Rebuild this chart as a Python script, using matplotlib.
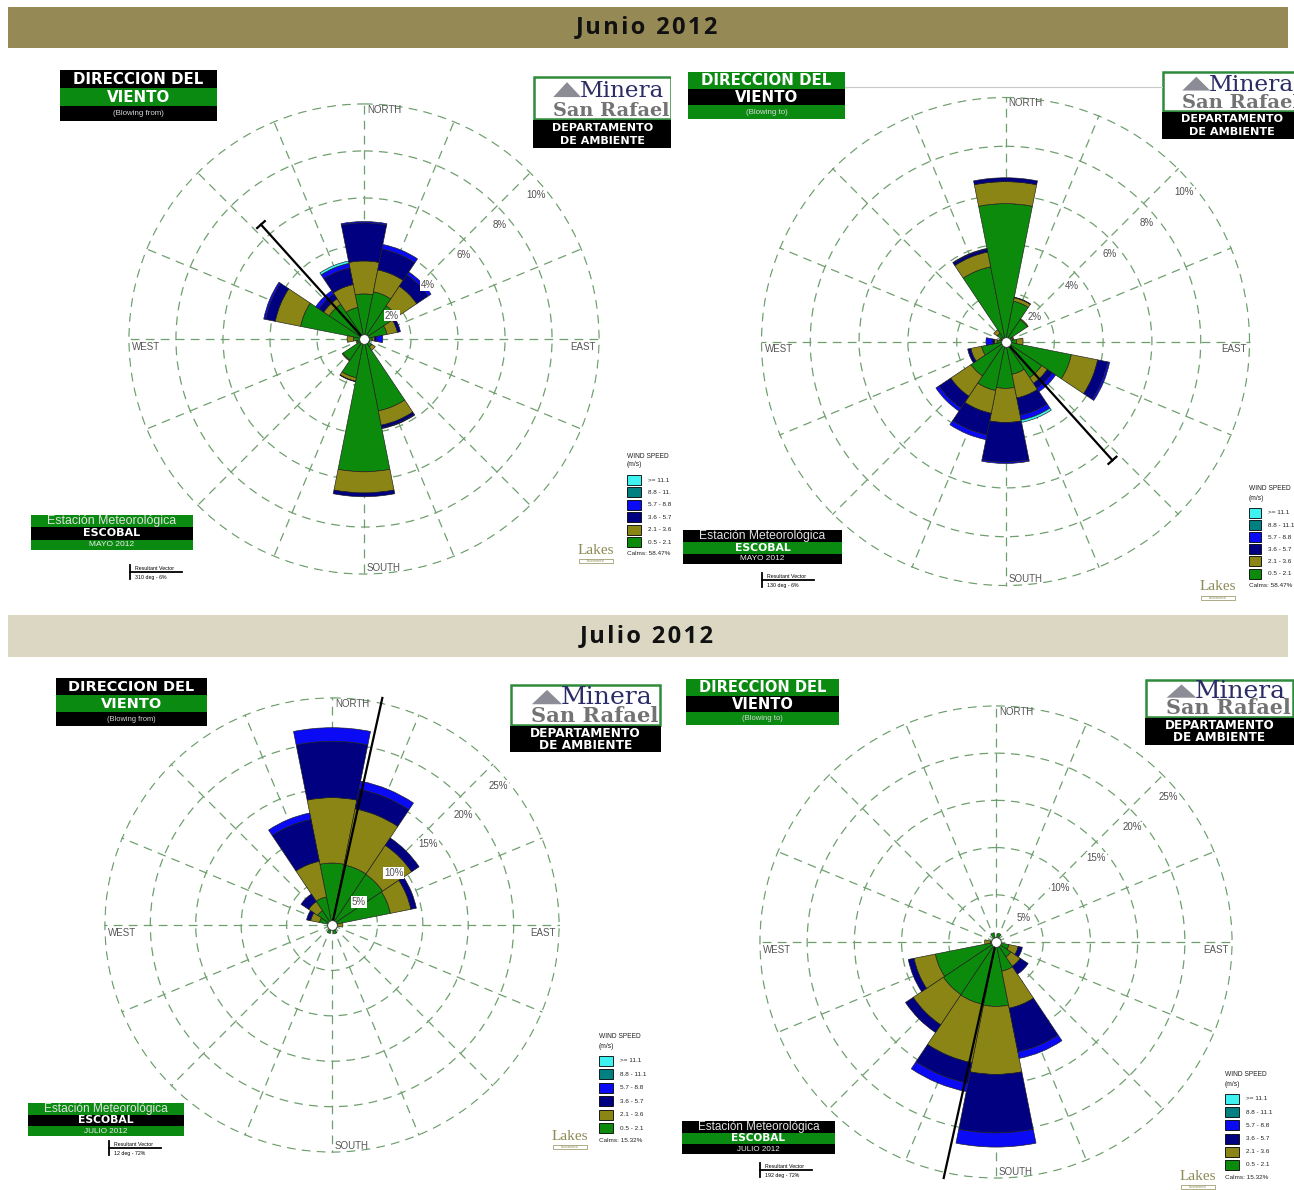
import numpy as np
import matplotlib
matplotlib.use('Agg')
import matplotlib.pyplot as plt
from matplotlib.patches import Rectangle, Polygon

plt.rcParams['font.family'] = 'Liberation Sans'

W, H = 1294, 1190

# ---- data -------------------------------------------------------------
directions = ['N', 'NNE', 'NE', 'ENE', 'E', 'ESE', 'SE', 'SSE',
              'S', 'SSW', 'SW', 'WSW', 'W', 'WNW', 'NW', 'NNW']
dir_deg = np.arange(16) * 22.5

speed_labels = ['0.5 - 2.1', '2.1 - 3.6', '3.6 - 5.7', '5.7 - 8.8', '8.8 - 11.1', '>= 11.1']
speed_colors = ['#0c8a0c', '#8a8514', '#000080', '#0a0af5', '#008080', '#3ff2f2']

# Junio 2012 - frequency (%) of wind blowing FROM each direction, per speed class
jun_05_21 = [1.92, 2.05, 1.70, 1.00, 0.35, 0.20, 0.40, 3.12, 5.65, 1.68, 1.08, 0.30, 0.45, 2.75, 1.78, 1.37]
jun_21_36 = [1.40, 0.95, 1.00, 0.45, 0.10, 0.05, 0.18, 0.62, 0.90, 0.15, 0.04, 0.05, 0.27, 1.10, 0.28, 0.99]
jun_36_57 = [1.62, 0.90, 0.58, 0.13, 0.10, 0.00, 0.00, 0.12, 0.16, 0.02, 0.00, 0.00, 0.00, 0.42, 0.25, 0.72]
jun_57_88 = [0.06, 0.20, 0.15, 0.00, 0.25, 0.00, 0.00, 0.03, 0.00, 0.00, 0.00, 0.00, 0.00, 0.08, 0.16, 0.20]
jun_88_111 = [0.0] * 16
jun_111 = [0.00, 0.00, 0.00, 0.00, 0.00, 0.00, 0.00, 0.00, 0.00, 0.00, 0.00, 0.00, 0.00, 0.00, 0.00, 0.10]
jun_calms = 58.47
jun_res_dir, jun_res_len = 318, 6.55
jun_res_text = '310 deg - 6%'

# Julio 2012
jul_05_21 = [6.82, 6.75, 6.70, 6.55, 0.60, 0.00, 0.00, 1.00, 0.45, 0.95, 0.00, 0.00, 0.30, 1.40, 1.90, 3.15]
jul_21_36 = [7.20, 6.30, 3.85, 2.30, 0.60, 0.00, 0.00, 0.00, 0.00, 0.00, 0.00, 0.00, 0.00, 1.00, 1.20, 4.00]
jul_36_57 = [6.20, 2.20, 0.98, 0.62, 0.00, 0.00, 0.00, 0.00, 0.00, 0.00, 0.00, 0.00, 0.00, 0.45, 1.00, 4.70]
jul_57_88 = [1.50, 0.90, 0.00, 0.00, 0.00, 0.00, 0.00, 0.00, 0.00, 0.00, 0.00, 0.00, 0.00, 0.00, 0.00, 0.72]
jul_88_111 = [0.0] * 16
jul_111 = [0.0] * 16
jul_calms = 15.32
jul_res_dir, jul_res_len = 12.5, 25.6
jul_res_text_from = '12 deg - 72%'
jul_res_text_to = '192 deg - 72%'

jun_rings = [2, 4, 6, 8, 10]
jul_rings = [5, 10, 15, 20, 25]

BOX_GREEN = '#0b8a12'
BORDER_GREEN = '#2f8a3a'
GRID = '#6f9f6f'
LAKES = '#8d8b55'
WIDE = 'DejaVu Sans'

fig = plt.figure(figsize=(W / 100, H / 100), dpi=100)


def px_axes(x0, y0, x1, y1, z=0):
    ax = fig.add_axes([x0 / W, 1 - y1 / H, (x1 - x0) / W, (y1 - y0) / H], zorder=z)
    ax.set_xlim(x0, x1)
    ax.set_ylim(y1, y0)
    ax.axis('off')
    return ax


def txt(ax, x, y, s, **kw):
    kw.setdefault('ha', 'center')
    kw.setdefault('va', 'center')
    return ax.text(x, y, s, clip_on=True, **kw)


def title_box(ax, x, y, w, h, to):
    cols = [BOX_GREEN, 'black', BOX_GREEN] if to else ['black', BOX_GREEN, 'black']
    hs = [0.36 * h, 0.35 * h, 0.29 * h]
    yy = y
    for c, hh in zip(cols, hs):
        ax.add_patch(Rectangle((x, yy), w, hh, fc=c, ec='none'))
        yy += hh
    fs = w * 0.069
    txt(ax, x + w / 2, y + hs[0] / 2 + 0.5, 'DIRECCION DEL', color='white', weight='bold',
        family=WIDE, fontsize=fs)
    txt(ax, x + w / 2, y + hs[0] + hs[1] / 2 + 0.5, 'VIENTO', color='white', weight='bold',
        family=WIDE, fontsize=fs)
    txt(ax, x + w / 2, y + hs[0] + hs[1] + hs[2] / 2, '(Blowing to)' if to else '(Blowing from)',
        color='#d8d8d8', fontsize=fs * 0.52)


def logo(ax, x, y, w, h, wf=0.6):
    hw = h * wf
    ax.add_patch(Rectangle((x + 1, y + 1), w - 2, hw - 2, fc='white', ec=BORDER_GREEN, lw=1.8))
    ax.add_patch(Rectangle((x, y + hw), w, h - hw, fc='black', ec='none'))
    ax.add_patch(Polygon([(x + 0.145 * w, y + 0.48 * hw), (x + 0.345 * w, y + 0.48 * hw),
                          (x + 0.245 * w, y + 0.14 * hw)], closed=True, fc='#8c8c96', ec='none'))
    txt(ax, x + 0.335 * w, y + 0.48 * hw, 'Minera', ha='left', va='baseline',
        family='DejaVu Serif', color='#2c2c66', fontsize=w * 0.12)
    txt(ax, x + 0.56 * w, y + 0.90 * hw, 'San Rafael', va='baseline',
        family='DejaVu Serif', weight='bold', color='#737373', fontsize=w * 0.1)
    hb = h - hw
    txt(ax, x + w / 2, y + hw + hb * 0.28, 'DEPARTAMENTO', color='white', weight='bold',
        family=WIDE, fontsize=w * 0.058)
    txt(ax, x + w / 2, y + hw + hb * 0.74, 'DE AMBIENTE', color='white', weight='bold',
        family=WIDE, fontsize=w * 0.058)


def station_box(ax, x, y, w, h, to, month):
    cols = ['black', BOX_GREEN, 'black'] if to else [BOX_GREEN, 'black', BOX_GREEN]
    hs = [0.35 * h, 0.35 * h, 0.30 * h]
    yy = y
    for c, hh in zip(cols, hs):
        ax.add_patch(Rectangle((x, yy), w, hh, fc=c, ec='none'))
        yy += hh
    fs = w * 0.055
    txt(ax, x + w / 2, y + hs[0] / 2, 'Estación Meteorológica', color='#e2e2e2', fontsize=fs)
    txt(ax, x + w / 2, y + hs[0] + hs[1] / 2, 'ESCOBAL', color='white', weight='bold',
        family=WIDE, fontsize=fs * 0.9)
    txt(ax, x + w / 2, y + hs[0] + hs[1] + hs[2] / 2, month, color='#eeeeee', fontsize=fs * 0.68)


def vector_key(ax, x, y, label):
    ax.plot([x, x], [y - 7, y + 7], color='black', lw=1.3)
    ax.plot([x, x + 52], [y, y], color='black', lw=1.3)
    txt(ax, x + 5, y - 1.5, 'Resultant Vector', ha='left', va='bottom', fontsize=3.8)
    txt(ax, x + 5, y + 2.5, label, ha='left', va='top', fontsize=3.8)


def legend(ax, x, y, step, calms, bw=13):
    txt(ax, x, y, 'WIND SPEED', ha='left', fontsize=4.8, color='#222222')
    txt(ax, x, y + 9, '(m/s)', ha='left', fontsize=4.8, color='#222222')
    for i, (lab, col) in enumerate(zip(speed_labels[::-1], speed_colors[::-1])):
        yy = y + 24 + i * step
        ax.add_patch(Rectangle((x, yy - 5), bw, 10, fc=col, ec='black', lw=0.6))
        txt(ax, x + bw + 7, yy, lab, ha='left', fontsize=4.6, color='#222222')
    txt(ax, x, y + 24 + 6 * step - 0.5, f'Calms: {calms}%', ha='left', fontsize=4.6, color='#222222')


def lakes(ax, x, y):
    txt(ax, x + 18, y + 9, 'Lakes', family='Liberation Serif', color=LAKES, fontsize=11)
    ax.add_patch(Rectangle((x + 1, y + 18), 34, 3.5, fc='none', ec=LAKES, lw=0.5))
    txt(ax, x + 18, y + 19.8, 'Environmental', fontsize=2.0, color=LAKES)


def rose(cx, cy, R, classes, rmax, rings, to, res_dir, res_len, tbar):
    ax = fig.add_axes([(cx - R) / W, 1 - (cy + R) / H, 2 * R / W, 2 * R / H],
                      projection='polar', zorder=3)
    ax.set_facecolor('none')
    ax.set_theta_zero_location('N')
    ax.set_theta_direction(-1)
    shift = 180 if to else 0
    theta = np.deg2rad(dir_deg + shift)
    bottom = np.zeros(16)
    for vals, col in zip(classes, speed_colors):
        vals = np.asarray(vals, float)
        m = vals > 0
        if m.any():
            ax.bar(theta[m], vals[m], width=np.deg2rad(22.5), bottom=bottom[m],
                   color=col, edgecolor='#1c1c1c', linewidth=0.45, zorder=2)
        bottom += vals
    ax.set_xticks(np.deg2rad(dir_deg))
    ax.set_xticklabels([''] * 16)
    ax.set_yticks(rings)
    ax.set_yticklabels([''] * len(rings))
    ax.tick_params(length=0)
    ax.set_ylim(0, rmax * 1.004)
    ax.grid(True, color=GRID, linestyle=(0, (7, 5)), linewidth=0.9)
    ax.spines['polar'].set_visible(False)
    ax.set_axisbelow(True)

    for v in rings:
        ax.text(np.deg2rad(50), v - 0.045 * rmax, f'{v}%', fontsize=7, color='#505050',
                ha='center', va='center', zorder=4,
                bbox=dict(fc='white', ec='none', pad=0.6))

    d = 1.0 / (2 * R)
    lab = dict(fontsize=7, color='#555555', transform=ax.transAxes, zorder=4)
    ax.text(0.5 + 3 * d, 1 - 2 * d, 'NORTH', ha='left', va='top', **lab)
    ax.text(0.5 + 3 * d, 2 * d, 'SOUTH', ha='left', va='bottom', **lab)
    ax.text(4 * d, 0.5 - 3 * d, 'WEST', ha='left', va='top', **lab)
    ax.text(1 - 4 * d, 0.5 - 3 * d, 'EAST', ha='right', va='top', **lab)

    th = np.deg2rad(res_dir + shift)
    ax.plot([th, th], [0, res_len], color='black', lw=1.6, zorder=5, clip_on=False)
    if tbar > 0:
        ex, ey = res_len * np.sin(th), res_len * np.cos(th)
        bx = np.array([ex - tbar * np.cos(th), ex + tbar * np.cos(th)])
        by = np.array([ey + tbar * np.sin(th), ey - tbar * np.sin(th)])
        ax.plot(np.arctan2(bx, by), np.hypot(bx, by), color='black', lw=1.6, zorder=5, clip_on=False)
    ax.plot([0], [0], 'o', ms=7, mfc='white', mec='#333333', mew=0.6, zorder=6, clip_on=False)
    return ax


# ---- month header bars -------------------------------------------------
bg = px_axes(0, 0, W, H, z=0)
bg.add_patch(Rectangle((8, 7), 1280, 41, fc='#958a55', ec='none'))
bg.add_patch(Rectangle((8, 615), 1280, 42, fc='#dcd7c3', ec='none'))
head = dict(family=['Open Sans', 'DejaVu Sans'], weight='bold', fontsize=17, color='#111111',
            ha='center', va='center')
bg.text(647, 27.5, '\u200a'.join('Junio 2012'), **head)
bg.text(647, 636, '\u200a'.join('Julio 2012'), **head)

jun = [jun_05_21, jun_21_36, jun_36_57, jun_57_88, jun_88_111, jun_111]
jul = [jul_05_21, jul_21_36, jul_36_57, jul_57_88, jul_88_111, jul_111]

# ---- panel 1: Junio, blowing from --------------------------------------
p1 = px_axes(18, 55, 671, 600, z=1)
title_box(p1, 60, 70, 157, 51, to=False)
logo(p1, 533, 76, 139, 72, wf=0.61)
legend(p1, 627, 456, 12.4, jun_calms, bw=14)
lakes(p1, 578, 541)
station_box(p1, 31, 515, 162, 35, to=False, month='MAYO 2012')
vector_key(p1, 130, 572, jun_res_text)
rose(364, 339, 236, jun, 10, jun_rings, False, jun_res_dir, jun_res_len, 0.22)

# ---- panel 2: Junio, blowing to ----------------------------------------
p2 = px_axes(678, 55, W, 605, z=1)
p2.plot([845, 1162], [87, 87], color='#c8c8c8', lw=0.8)
title_box(p2, 688, 72, 157, 47, to=True)
logo(p2, 1162, 71, 140, 68, wf=0.6)
legend(p2, 1249, 489, 12.1, jun_calms, bw=12)
lakes(p2, 1200, 578)
station_box(p2, 683, 530, 159, 34, to=True, month='MAYO 2012')
vector_key(p2, 762, 580, '130 deg - 6%')
rose(1005.5, 341.5, 245, jun, 10, jun_rings, True, jun_res_dir, jun_res_len, 0.22)

# ---- panel 3: Julio, blowing from --------------------------------------
p3 = px_axes(18, 662, 666, 1165, z=1)
title_box(p3, 56, 678, 151, 48, to=False)
logo(p3, 510, 684, 151, 68, wf=0.62)
legend(p3, 599, 1037, 13.4, jul_calms, bw=14)
lakes(p3, 552, 1127)
station_box(p3, 28, 1103, 156, 33, to=False, month='JULIO 2012')
vector_key(p3, 109, 1148, jul_res_text_from)
rose(332, 925, 228, jul, 25, jul_rings, False, jul_res_dir, jul_res_len, 0)

# ---- panel 4: Julio, blowing to ----------------------------------------
p4 = px_axes(678, 662, W, H, z=1)
title_box(p4, 686, 679, 153, 46, to=True)
logo(p4, 1145, 679, 149, 66, wf=0.59)
legend(p4, 1225, 1075, 13.2, jul_calms, bw=14)
lakes(p4, 1180, 1167)
station_box(p4, 682, 1121, 153, 33, to=True, month='JULIO 2012')
vector_key(p4, 760, 1170, jul_res_text_to)
rose(996, 942, 237, jul, 25, jul_rings, True, jul_res_dir, jul_res_len, 0)

fig.savefig('out.png', dpi=100, facecolor='white')
